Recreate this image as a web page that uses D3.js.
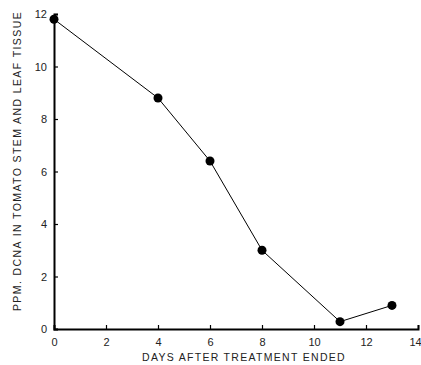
<!DOCTYPE html>
<html><head><meta charset="utf-8">
<script src="https://cdn.jsdelivr.net/npm/d3@7"></script>
<style>body{margin:0;background:#fff;}svg{display:block;}</style>
</head><body>
<script>
const days = [0, 4, 6, 8, 11, 13];
const ppm = [11.8, 8.8, 6.4, 3.0, 0.28, 0.9];
const xTicks = [0, 2, 4, 6, 8, 10, 12, 14];
const yTicks = [0, 2, 4, 6, 8, 10, 12];
const xTitle = "DAYS AFTER TREATMENT ENDED";
const yTitle = "PPM. DCNA IN TOMATO STEM AND LEAF TISSUE";

const W = 421, H = 365;
const svg = d3.select("body").append("svg").attr("width", W).attr("height", H);
const x = d3.scaleLinear().domain([0, 14]).range([54, 418]);
const y = d3.scaleLinear().domain([0, 12]).range([329, 14]);
const font = "'Liberation Sans', Arial, sans-serif";

const gx = svg.append("g").attr("transform", `translate(0,${y(0)})`)
  .call(d3.axisBottom(x).tickValues(xTicks).tickSize(-4).tickPadding(9).tickFormat(d3.format("d")));
const gy = svg.append("g").attr("transform", `translate(${x(0)},0)`)
  .call(d3.axisLeft(y).tickValues(yTicks).tickSize(-4).tickPadding(7).tickFormat(d3.format("d")));
[gx, gy].forEach(g => {
  g.select(".domain").attr("stroke", "#000").attr("stroke-width", 2);
  g.selectAll(".tick line").attr("stroke", "#000").attr("stroke-width", 1.2);
  g.selectAll(".tick text").attr("font-family", font).attr("font-size", 11).attr("fill", "#222");
});
gx.selectAll(".tick text").filter(d => d === 14).attr("dx", "-3");

svg.append("path").datum(days.map((d, i) => [d, ppm[i]]))
  .attr("fill", "none").attr("stroke", "#000").attr("stroke-width", 1)
  .attr("d", d3.line().x(d => x(d[0])).y(d => y(d[1])));

svg.selectAll("ellipse.pt").data(days).enter().append("ellipse")
  .attr("cx", (d, i) => x(d)).attr("cy", (d, i) => y(ppm[i]))
  .attr("rx", 4.5).attr("ry", 4.5).attr("fill", "#000");

svg.append("text").attr("x", 244).attr("y", 361).attr("text-anchor", "middle")
  .attr("font-family", font).attr("font-size", 10.5).attr("letter-spacing", 1.3).attr("fill", "#222")
  .text(xTitle);
svg.append("text").attr("transform", "translate(21,161) rotate(-90)").attr("text-anchor", "middle")
  .attr("font-family", font).attr("font-size", 10.5).attr("letter-spacing", 1.4).attr("fill", "#222")
  .text(yTitle);
</script>
</body></html>
